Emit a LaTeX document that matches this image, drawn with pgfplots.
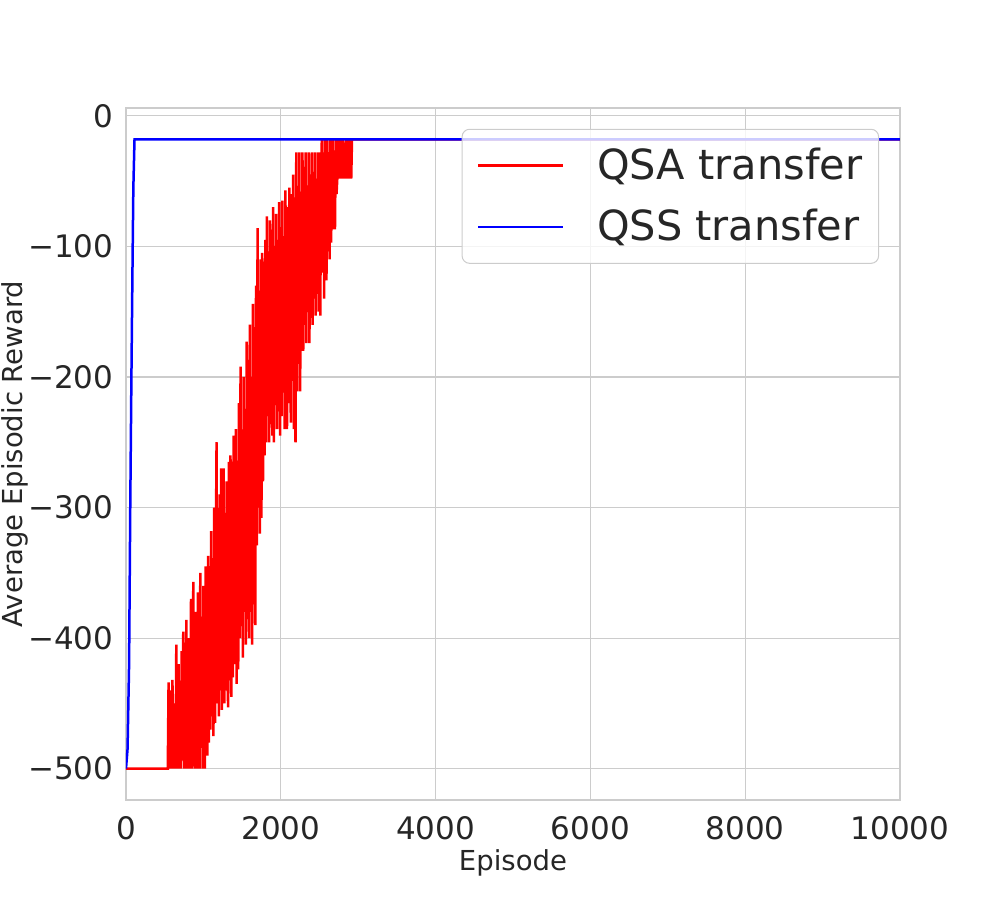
\documentclass[border=0pt]{standalone}
\usepackage{fontspec}
\setmainfont{DejaVu Sans}
\usepackage{pgfplots}
\pgfplotsset{compat=1.18}
\definecolor{txt}{HTML}{262626}
\definecolor{gridc}{HTML}{CCCCCC}
\definecolor{qsa}{HTML}{FF0000}
\definecolor{qss}{HTML}{0000FF}
\begin{document}
\begin{tikzpicture}
\useasboundingbox (-50.4pt,-40pt) rectangle (349.6pt,320pt);
\begin{axis}[
  at={(0,0)}, anchor=south west,
  scale only axis,
  width=309.6pt, height=276.8pt,
  xmin=0, xmax=10000,
  ymin=-524, ymax=6,
  xtick={0,2000,...,10000},
  ytick={-500,-400,-300,-200,-100,0},
  yticklabels={−500,−400,−300,−200,−100,0},
  /pgf/number format/assume math mode=true,
  /pgf/number format/1000 sep={},
  scaled x ticks=false,
  major tick length=0pt,
  grid=major,
  grid style={gridc, line width=0.45pt},
  axis line style={gridc, line width=0.6pt},
  tick label style={font=\fontsize{12.4}{14}\selectfont, text=txt},
  yticklabel style={xshift=-1.5pt},
  xticklabel style={yshift=-3pt},
  label style={font=\fontsize{11}{13}\selectfont, text=txt},
  xlabel={Episode},
  ylabel={Average Episodic Reward},
  xlabel style={at={(axis description cs:0.5,-0.091)}, anchor=center},
  ylabel style={at={(axis description cs:-0.144,0.5)}, anchor=center},
  legend style={at={(rel axis cs:0.973,0.97)}, anchor=north east,
    draw=gridc, rounded corners=3pt, fill=white, fill opacity=0.8, text opacity=1,
    font=\fontsize{16.6}{19}\selectfont, text=txt,
    inner xsep=6pt, inner ysep=5.5pt,
    row sep=6.4pt,
    nodes={inner xsep=0.5pt},
    /tikz/every odd column/.append style={column sep=12.5pt}},
  legend cell align=left,
  legend image code/.code={\draw[#1] (0pt,0pt) -- (34pt,0pt);},
]
\addplot[qsa, line width=1pt] coordinates {
(0,-500) (530,-500)
(540,-500) (550,-434) (560,-500) (570,-470) (580,-440) (590,-500) (600,-432) (610,-485)
(620,-500) (630,-450) (640,-500) (650,-405) (660,-480) (670,-500) (680,-420) (690,-500)
(700,-440) (710,-500) (720,-410) (730,-470) (740,-395) (750,-500) (760,-430) (770,-500)
(780,-386) (790,-480) (800,-500) (810,-400) (820,-470) (830,-500) (840,-370) (850,-500)
(860,-420) (870,-357) (880,-490) (890,-500) (900,-380) (910,-460) (920,-500) (930,-365)
(940,-440) (950,-500) (960,-350) (970,-480) (980,-400) (990,-500) (1000,-360) (1010,-470)
(1020,-500) (1030,-345) (1040,-450) (1050,-490) (1060,-337) (1070,-480) (1080,-395) (1090,-470)
(1100,-318) (1110,-460) (1120,-370) (1130,-475) (1140,-300) (1150,-465) (1160,-340) (1170,-250)
(1180,-450) (1190,-320) (1200,-460) (1210,-290) (1220,-440) (1230,-270) (1240,-455) (1250,-300)
(1260,-270) (1270,-450) (1280,-330) (1290,-440) (1300,-280) (1310,-430) (1320,-453) (1330,-265)
(1340,-400) (1350,-260) (1360,-445) (1370,-300) (1380,-430) (1390,-245) (1400,-420) (1410,-310)
(1420,-240) (1430,-435) (1440,-280) (1450,-424) (1460,-220) (1470,-400) (1480,-192) (1490,-390)
(1500,-260) (1510,-415) (1520,-200) (1530,-380) (1540,-240) (1550,-405) (1560,-173) (1570,-370)
(1580,-220) (1590,-400) (1600,-160) (1610,-380) (1620,-200) (1630,-405) (1640,-144) (1650,-350)
(1660,-180) (1670,-390) (1680,-130) (1690,-329) (1700,-86) (1710,-300) (1720,-150) (1730,-320)
(1740,-110) (1750,-308) (1760,-105) (1770,-280) (1780,-120) (1790,-260) (1800,-95) (1810,-250)
(1820,-77) (1830,-230) (1840,-110) (1850,-250) (1860,-80) (1870,-220) (1880,-100) (1890,-245)
(1900,-70) (1910,-250) (1920,-120) (1930,-200) (1940,-75) (1950,-240) (1960,-95) (1970,-215)
(1980,-66) (1990,-245) (2000,-90) (2010,-230) (2020,-65) (2030,-200) (2040,-110) (2050,-240)
(2060,-57) (2070,-210) (2080,-240) (2090,-70) (2100,-220) (2110,-55) (2120,-180) (2130,-235)
(2140,-60) (2150,-200) (2160,-45) (2170,-240) (2180,-90) (2190,-250) (2200,-28) (2210,-211)
(2220,-60) (2230,-190) (2240,-28) (2250,-211) (2260,-80) (2270,-170) (2280,-28) (2290,-180)
(2300,-48) (2310,-160) (2320,-28) (2330,-174) (2340,-60) (2350,-150) (2360,-28) (2370,-174)
(2380,-48) (2390,-130) (2400,-28) (2410,-160) (2420,-60) (2430,-140) (2440,-28) (2450,-153)
(2460,-48) (2470,-120) (2480,-28) (2490,-150) (2500,-28) (2510,-153) (2520,-48) (2530,-18)
(2540,-120) (2550,-28) (2560,-140) (2570,-18) (2580,-90) (2590,-126) (2600,-18) (2610,-100)
(2620,-28) (2630,-110) (2640,-18) (2650,-97) (2660,-48) (2670,-18) (2680,-87) (2690,-28)
(2700,-87) (2710,-18) (2720,-60) (2730,-48) (2740,-18) (2750,-48) (2760,-18) (2770,-48)
(2780,-18) (2790,-48) (2800,-18) (2810,-48) (2820,-28) (2830,-48) (2840,-18) (2850,-48)
(2860,-18) (2870,-48) (2880,-18) (2890,-48) (2900,-18) (2910,-48) (2920,-18)
(10000,-18)
};
\addlegendentry{QSA transfer}
\addplot[qss, line width=1pt] coordinates {
(0,-500) (20,-485) (40,-420) (55,-300) (70,-200) (85,-110) (95,-55) (110,-18) (10000,-18)
};
\addlegendentry{QSS transfer}
\end{axis}
\end{tikzpicture}
\end{document}
